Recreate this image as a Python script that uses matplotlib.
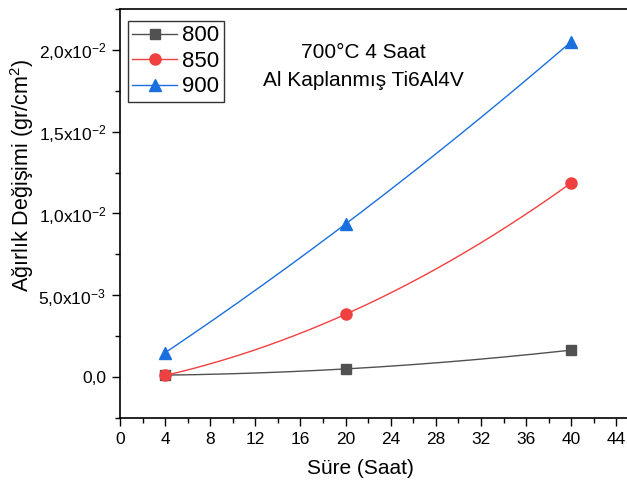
import numpy as np
import matplotlib
matplotlib.use("Agg")
import matplotlib.pyplot as plt
from matplotlib.ticker import FixedLocator, MultipleLocator

plt.rcParams['font.family'] = ['Liberation Sans', 'DejaVu Sans']
plt.rcParams['mathtext.fontset'] = 'custom'
plt.rcParams['mathtext.rm'] = 'Liberation Sans'
plt.rcParams['mathtext.it'] = 'Liberation Sans:italic'
plt.rcParams['mathtext.bf'] = 'Liberation Sans:bold'

# Data
hours = [4, 20, 40]
series_names = ['800', '850', '900']
gain_800 = [0.00012, 0.00050, 0.00165]
gain_850 = [0.00010, 0.00384, 0.01187]
gain_900 = [0.00149, 0.00936, 0.02050]

x_ticks = [0, 4, 8, 12, 16, 20, 24, 28, 32, 36, 40, 44]
y_ticks = [0.0, 0.005, 0.010, 0.015, 0.020]
y_tick_labels = ['0,0', r'5,0x10$^{-3}$', r'1,0x10$^{-2}$', r'1,5x10$^{-2}$', r'2,0x10$^{-2}$']

colors = ['#515151', '#F14040', '#1A6FDF']
markers = ['s', 'o', '^']
msizes = [7, 8, 8.5]

fig = plt.figure(figsize=(6.27, 4.86), dpi=100)
ax = fig.add_axes([120 / 627, 68 / 486, 520 / 627, 409 / 486])

series = [gain_800, gain_850, gain_900]
for name, ys, c, m, ms in zip(series_names, series, colors, markers, msizes):
    xs = np.array(hours, dtype=float)
    yv = np.array(ys, dtype=float)
    # smooth connecting curve: quadratic passing through the three points
    coef = np.polyfit(xs, yv, 2)
    xf = np.linspace(xs[0], xs[-1], 200)
    ax.plot(xf, np.polyval(coef, xf), color=c, lw=1.0, zorder=2)
    ax.plot(xs, yv, linestyle='none', marker=m, color=c, markersize=ms, zorder=3)
    # legend proxy
    ax.plot([], [], color=c, lw=1.0, marker=m, markersize=ms, label=name)

ax.set_xlim(0, 46.1)
ax.set_ylim(-0.0025, 0.0225)

ax.xaxis.set_major_locator(FixedLocator(x_ticks))
ax.xaxis.set_minor_locator(MultipleLocator(2))
ax.yaxis.set_major_locator(FixedLocator(y_ticks))
ax.set_yticklabels(y_tick_labels)
ax.yaxis.set_minor_locator(MultipleLocator(0.0025))
ax.set_xticklabels([str(v) for v in x_ticks])

ax.tick_params(which='major', direction='out', length=6, width=1.0, labelsize=12.5, pad=4)
ax.tick_params(which='minor', direction='out', length=3.5, width=1.0)
ax.tick_params(axis='x', which='both', top=False)
ax.tick_params(axis='y', which='both', right=False)

for s in ['left', 'bottom', 'top']:
    ax.spines[s].set_linewidth(1.2)
ax.spines['right'].set_visible(False)

ax.set_xlabel('Süre (Saat)', fontsize=15)
ax.set_ylabel(r'Ağırlık Değişimi (gr/cm$^{2}$)', fontsize=15.5)
ax.xaxis.set_label_coords(240 / 520, -41 / 409)
ax.yaxis.set_label_coords(-84 / 520, 243 / 409)

ax.text(21.6, 0.0190, '700°C 4 Saat\nAl Kaplanmış Ti6Al4V', fontsize=15,
        ha='center', va='center', linespacing=1.6)

handles, labels = ax.get_legend_handles_labels()
leg = ax.legend(handles, labels, loc='upper left',
                bbox_to_anchor=(8 / 520, 1 - 12 / 409), fontsize=16, frameon=True, fancybox=False,
                edgecolor='black', handlelength=2.0, handletextpad=0.25,
                borderpad=0.2, labelspacing=0.2, borderaxespad=0.0)
leg.get_frame().set_linewidth(1.0)

fig.savefig('out.png', dpi=100)
